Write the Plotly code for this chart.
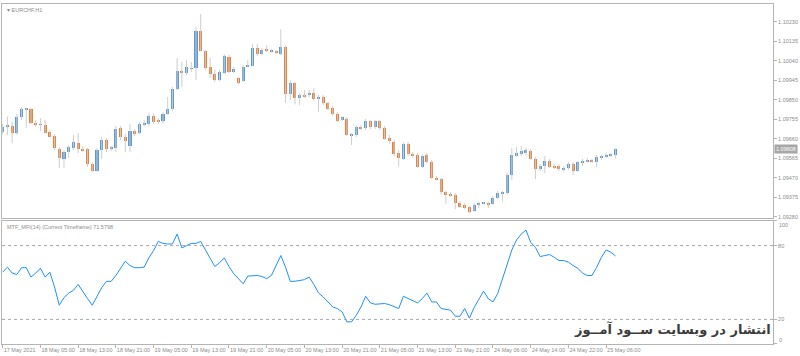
import plotly.graph_objects as go

# ---------------- data ----------------
opens = [1.09695,1.09721,1.09724,1.09690,1.09765,1.09803,1.09804,1.09738,1.09729,1.09729,
1.09693,1.09674,1.09610,1.09563,1.09594,1.09617,1.09641,1.09612,1.09609,1.09537,
1.09505,1.09605,1.09654,1.09614,1.09615,1.09711,1.09670,1.09623,1.09698,1.09690,
1.09732,1.09732,1.09773,1.09747,1.09747,1.09779,1.09804,1.09901,1.09990,1.09979,
1.10002,1.10006,1.10185,1.10088,1.10010,1.09976,1.09946,1.09982,1.10060,1.09987,
1.09956,1.09941,1.10011,1.10016,1.10101,1.10073,1.10096,1.10087,1.10088,1.10074,
1.10107,1.09878,1.09933,1.09859,1.09873,1.09872,1.09885,1.09852,1.09865,1.09833,
1.09809,1.09779,1.09753,1.09756,1.09677,1.09680,1.09717,1.09711,1.09745,1.09717,
1.09745,1.09713,1.09663,1.09646,1.09592,1.09563,1.09635,1.09586,1.09583,1.09524,
1.09581,1.09549,1.09471,1.09464,1.09401,1.09391,1.09386,1.09349,1.09339,1.09326,
1.09307,1.09338,1.09345,1.09347,1.09343,1.09373,1.09393,1.09398,1.09484,1.09580,
1.09586,1.09592,1.09599,1.09563,1.09511,1.09529,1.09552,1.09529,1.09527,1.09508,
1.09516,1.09537,1.09502,1.09544,1.09550,1.09557,1.09549,1.09567,1.09573,1.09577,
1.09580]

highs = [1.09732,1.09768,1.09743,1.09781,1.09815,1.09812,1.09810,1.09752,1.09761,1.09752,
1.09703,1.09683,1.09620,1.09605,1.09630,1.09679,1.09688,1.09625,1.09615,1.09547,
1.09615,1.09669,1.09664,1.09625,1.09722,1.09722,1.09683,1.09732,1.09708,1.09742,
1.09752,1.09786,1.09786,1.09761,1.09791,1.09864,1.09912,1.10054,1.10034,1.10044,
1.10034,1.10206,1.10268,1.10092,1.10054,1.09995,1.09995,1.10073,1.10068,1.10010,
1.09961,1.10019,1.10044,1.10122,1.10122,1.10102,1.10117,1.10097,1.10092,1.10193,
1.10112,1.09946,1.09936,1.09883,1.09898,1.09898,1.09907,1.09873,1.09873,1.09839,
1.09820,1.09791,1.09771,1.09766,1.09688,1.09727,1.09727,1.09757,1.09752,1.09752,
1.09752,1.09722,1.09679,1.09654,1.09605,1.09644,1.09644,1.09596,1.09591,1.09586,
1.09591,1.09557,1.09479,1.09469,1.09406,1.09401,1.09396,1.09357,1.09347,1.09333,
1.09347,1.09354,1.09352,1.09352,1.09381,1.09406,1.09406,1.09493,1.09614,1.09620,
1.09625,1.09615,1.09610,1.09571,1.09537,1.09576,1.09562,1.09537,1.09537,1.09527,
1.09547,1.09547,1.09552,1.09562,1.09567,1.09562,1.09581,1.09581,1.09591,1.09591,
1.09614]

lows = [1.09683,1.09679,1.09638,1.09679,1.09752,1.09713,1.09732,1.09717,1.09698,1.09686,
1.09665,1.09605,1.09518,1.09518,1.09567,1.09605,1.09591,1.09596,1.09523,1.09500,
1.09500,1.09562,1.09596,1.09600,1.09596,1.09654,1.09596,1.09596,1.09674,1.09683,
1.09722,1.09722,1.09732,1.09732,1.09737,1.09776,1.09795,1.09898,1.09912,1.09971,
1.09985,1.09946,1.10086,1.09995,1.09957,1.09937,1.09941,1.09976,1.09980,1.09980,
1.09927,1.09937,1.10010,1.10014,1.10063,1.10068,1.10083,1.10080,1.10073,1.10068,
1.09835,1.09849,1.09828,1.09823,1.09859,1.09864,1.09844,1.09792,1.09825,1.09800,
1.09771,1.09742,1.09747,1.09674,1.09630,1.09669,1.09703,1.09703,1.09708,1.09708,
1.09703,1.09654,1.09635,1.09576,1.09524,1.09557,1.09576,1.09567,1.09518,1.09518,
1.09542,1.09464,1.09455,1.09388,1.09343,1.09377,1.09317,1.09323,1.09318,1.09299,
1.09304,1.09322,1.09340,1.09322,1.09338,1.09367,1.09354,1.09388,1.09459,1.09571,
1.09576,1.09581,1.09557,1.09464,1.09503,1.09492,1.09518,1.09513,1.09503,1.09500,
1.09508,1.09484,1.09498,1.09528,1.09547,1.09542,1.09524,1.09557,1.09567,1.09571,
1.09565]

closes = [1.09719,1.09723,1.09690,1.09765,1.09804,1.09805,1.09738,1.09729,1.09731,1.09690,
1.09670,1.09614,1.09565,1.09597,1.09620,1.09646,1.09610,1.09602,1.09537,1.09505,
1.09605,1.09654,1.09610,1.09616,1.09709,1.09670,1.09651,1.09698,1.09685,1.09732,
1.09738,1.09773,1.09743,1.09742,1.09781,1.09806,1.09902,1.09990,1.09979,1.10010,
1.10004,1.10185,1.10088,1.10006,1.09977,1.09946,1.09985,1.10063,1.09985,1.10000,
1.09933,1.10010,1.10019,1.10101,1.10073,1.10092,1.10088,1.10089,1.10078,1.10107,
1.09880,1.09933,1.09859,1.09873,1.09868,1.09885,1.09852,1.09865,1.09833,1.09807,
1.09779,1.09748,1.09766,1.09677,1.09683,1.09717,1.09709,1.09745,1.09716,1.09745,
1.09713,1.09661,1.09648,1.09586,1.09565,1.09635,1.09586,1.09580,1.09524,1.09578,
1.09549,1.09471,1.09464,1.09401,1.09388,1.09386,1.09349,1.09330,1.09325,1.09304,
1.09339,1.09343,1.09346,1.09339,1.09373,1.09395,1.09398,1.09484,1.09583,1.09589,
1.09599,1.09605,1.09563,1.09511,1.09529,1.09552,1.09524,1.09521,1.09511,1.09519,
1.09536,1.09502,1.09546,1.09553,1.09557,1.09549,1.09570,1.09573,1.09583,1.09583,
1.09608]

mfi = [58.4,62.5,57.6,56.5,62,62,54.4,57.6,61.6,54.4,
58.4,46.3,31.5,37.7,41.4,43.6,48.5,42.2,36.9,31.5,
38.2,45.8,50.9,50.9,55.7,61.1,67.3,63.8,62,62,
62.5,70,75.9,83.4,81.8,81.3,81.3,89.4,78.1,80,
81.8,81.8,83.4,76.5,69.2,63,66,70,63,57.1,
53.1,49,55.2,55.7,55.7,54.9,53.1,55.7,63.8,71.9,
62.4,50.9,51,51.7,52.3,54.4,48.5,41.4,38.2,34.2,
30.1,28.8,26.1,18,18,23.4,30.1,38.8,33.4,32.3,
32.3,32.9,32,30.7,28.8,38.8,36.9,35,33.4,36.9,
41.4,34.2,34.2,28.8,28,27.5,22.6,22.6,28.8,21,
29.6,36.1,43,36.9,34.2,41,52.3,65.2,76.5,84.6,
89.4,92.6,82.6,78.6,71.1,71.9,72.7,70.5,67.9,67.9,
66.5,63.8,61.6,57.6,55.7,55.7,62.4,70.5,76.5,74.6,
71.58]

time_labels = ["17 May 2021","18 May 05:00","18 May 13:00","18 May 21:00","19 May 05:00",
"19 May 13:00","19 May 21:00","20 May 05:00","20 May 13:00","20 May 21:00",
"21 May 05:00","21 May 13:00","21 May 21:00","24 May 06:00","24 May 14:00",
"24 May 22:00","25 May 06:00"]
label_step = 8

price_ticks = [1.10230,1.10135,1.10040,1.09945,1.09850,1.09755,1.09660,1.09565,1.09470,1.09375,1.09280]
mfi_ticks = [100, 80, 20, 0]
mfi_levels = [80, 20]
last_price = closes[-1]
mfi_last = 71.5798

# ---------------- figure ----------------
UP = "#5B9BD5"
DOWN = "#E8803A"
WICK = "#cdcdcd"
AX = "#b4b4b4"
TXT = "#8c8c8c"
FONT = "Liberation Sans"

n = len(opens)
idx = list(range(n))

wx, wy = [], []
for i in idx:
    wx += [i, i, None]
    wy += [lows[i], highs[i], None]

bases = [min(o, c) for o, c in zip(opens, closes)]
heights = [max(abs(c - o), 0.00003) for o, c in zip(opens, closes)]
colors = [UP if c >= o else DOWN for o, c in zip(opens, closes)]

fig = go.Figure()
fig.add_trace(go.Scatter(x=wx, y=wy, mode="lines", line=dict(color=WICK, width=1),
                         xaxis="x2", yaxis="y", hoverinfo="skip", showlegend=False))
fig.add_trace(go.Bar(x=idx, y=heights, base=bases, width=0.64,
                     marker=dict(color=colors, line=dict(width=0)),
                     xaxis="x2", yaxis="y", showlegend=False))
fig.add_trace(go.Scatter(x=idx, y=mfi, mode="lines", line=dict(color="#1E90FF", width=1),
                         xaxis="x", yaxis="y2", showlegend=False))

shapes = []
for lv in mfi_levels:
    shapes.append(dict(type="line", xref="paper", x0=0, x1=1, yref="y2", y0=lv, y1=lv,
                       line=dict(color="#a8a8a8", width=1, dash="dot")))

# MFI edge labels (100 / 0) are nudged inside the panel, as in the reference
mfi_text = ["" if v in (mfi_ticks[0], mfi_ticks[-1]) else str(v) for v in mfi_ticks]
edge_ann = [
    dict(xref="paper", yref="y2", x=1, y=mfi_ticks[0], xanchor="left", yanchor="top",
         xshift=4, yshift=1, text=str(mfi_ticks[0]), showarrow=False,
         font=dict(size=5.5, color=TXT)),
    dict(xref="paper", yref="y2", x=1, y=mfi_ticks[-1], xanchor="left", yanchor="bottom",
         xshift=4, yshift=-1, text=str(mfi_ticks[-1]), showarrow=False,
         font=dict(size=5.5, color=TXT)),
]

xr = [-0.15, 163.4]
common_y = dict(tickfont=dict(size=5.5, color=TXT), ticks="outside", ticklen=3,
                tickcolor=AX, showline=True, mirror=True, linecolor=AX,
                showgrid=False, zeroline=False, automargin=False, side="right")
fig.update_layout(
    width=800, height=356,
    margin=dict(l=2, r=27, t=4, b=12, autoexpand=False),
    paper_bgcolor="white", plot_bgcolor="white",
    barmode="overlay", bargap=0,
    showlegend=False,
    font=dict(family=FONT, size=6, color=TXT),
    xaxis=dict(domain=[0, 1], anchor="y2", range=xr,
               tickvals=[i * label_step for i in range(len(time_labels))],
               ticktext=time_labels, ticklabelposition="outside right", tickangle=0,
               tickfont=dict(size=5.5, color=TXT), ticks="outside", ticklen=3,
               tickcolor=AX, showline=True, mirror=True, linecolor=AX,
               showgrid=False, zeroline=False, automargin=False),
    xaxis2=dict(domain=[0, 1], anchor="y", range=xr, matches="x",
                showticklabels=False, ticks="", showline=True, mirror=True,
                linecolor=AX, showgrid=False, zeroline=False, automargin=False),
    yaxis=dict(domain=[0.3706, 1], anchor="x2", range=[1.09274, 1.10317],
               tickvals=price_ticks, ticktext=[f"{v:.5f}" for v in price_ticks], **common_y),
    yaxis2=dict(domain=[0, 0.3618], anchor="x", range=[0, 100],
                tickvals=mfi_ticks, ticktext=mfi_text, **common_y),
    shapes=shapes,
    annotations=[
        dict(xref="paper", yref="paper", x=0, y=1, xanchor="left", yanchor="top",
             xshift=3, yshift=-1, text="▾ EURCHF,H1", showarrow=False,
             font=dict(size=5.5, color=TXT)),
        dict(xref="paper", yref="paper", x=0, y=0.3618, xanchor="left", yanchor="top",
             xshift=3, yshift=-1, text=f"MTF_MFI(14) (Current Timeframe) {mfi_last}",
             showarrow=False, font=dict(size=5.5, color=TXT)),
        dict(xref="paper", yref="y", x=1, y=last_price, xanchor="left", yanchor="middle",
             xshift=1, text=f"{last_price:.5f}", showarrow=False, bgcolor="#a6a6a6",
             borderpad=1, font=dict(size=5.5, color="white")),
        dict(xref="paper", yref="paper", x=1, y=0.045, xanchor="right", yanchor="middle",
             xshift=0, text="<b>انتشار در وبسایت ســود آمــوز</b>", showarrow=False,
             font=dict(family="DejaVu Sans", size=13, color="#3c3c3c")),
    ] + edge_ann,
)

fig.write_html("out.html", config={"displayModeBar": False},
               post_script="document.body.style.margin='0';document.body.style.overflow='hidden';")
